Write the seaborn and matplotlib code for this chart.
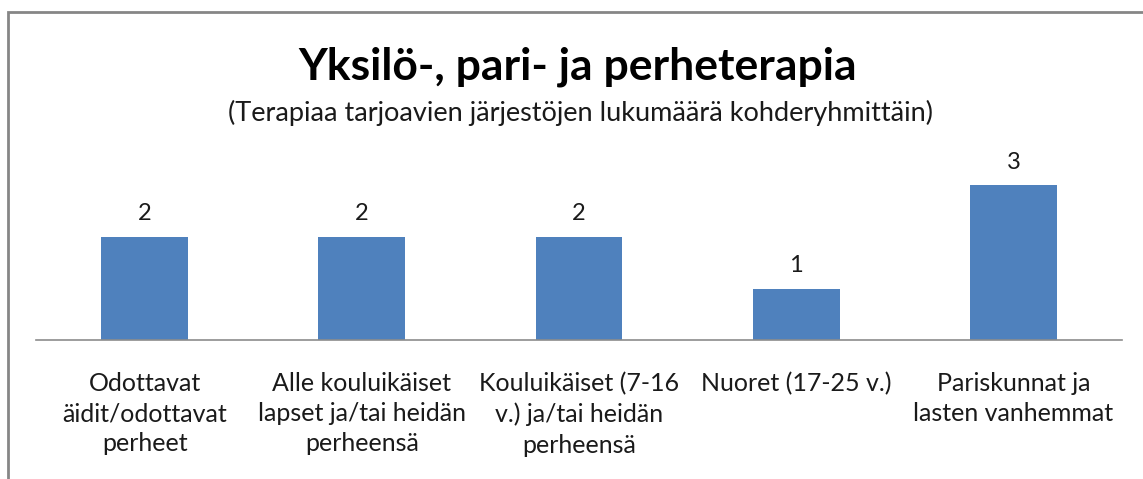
import matplotlib
matplotlib.use("Agg")
import matplotlib.pyplot as plt
import seaborn as sns
import pandas as pd
from matplotlib.patches import Rectangle

# chart data
categories = [
    "Odottavat\näidit/odottavat\nperheet",
    "Alle kouluikäiset\nlapset ja/tai heidän\nperheensä",
    "Kouluikäiset (7-16\nv.) ja/tai heidän\nperheensä",
    "Nuoret (17-25 v.)",
    "Pariskunnat ja\nlasten vanhemmat",
]
counts = [2, 2, 2, 1, 3]

df = pd.DataFrame({"kohderyhma": categories, "lukumaara": counts})

sns.set_theme(style="white")
plt.rcParams["font.family"] = ["Lato", "DejaVu Sans"]

W, H = 1143, 479
fig = plt.figure(figsize=(W / 100, H / 100), dpi=100)

# axes placed in pixel terms: x 36..1122, baseline at y=340
ax_top = 150
ax = fig.add_axes([36 / W, (H - 340) / H, (1122 - 36) / W, (340 - ax_top) / H])
sns.barplot(data=df, x="kohderyhma", y="lukumaara", color="#4F81BD",
            width=0.4, saturation=1, ax=ax, edgecolor="none")
ax.set_ylim(0, (340 - ax_top) / 51.5)
ax.set_xlim(-0.5, len(categories) - 0.5)

for c in ax.containers:
    ax.bar_label(c, labels=[str(v) for v in counts], padding=9, fontsize=17, color="#1a1a1a")

ax.set_xlabel("")
ax.set_ylabel("")
ax.set_yticks([])
ax.tick_params(axis="x", length=0, pad=23, labelsize=18, labelcolor="#1a1a1a")
for lbl in ax.get_xticklabels():
    lbl.set_linespacing(1.38)
for s in ["top", "right", "left"]:
    ax.spines[s].set_visible(False)
ax.spines["bottom"].set_color("#8C8C8C")
ax.spines["bottom"].set_linewidth(1.2)

# title and subtitle
fig.text(578 / W, 1 - 67 / H, "Yksilö-, pari- ja perheterapia", ha="center", va="center",
         fontsize=32, fontweight="bold", color="#000000")
fig.text(580 / W, 1 - 113 / H, "(Terapiaa tarjoavien järjestöjen lukumäärä kohderyhmittäin)",
         ha="center", va="center", fontsize=19.5, color="#1a1a1a")

# chart frame (cut at right and bottom edges)
fig.patches.append(Rectangle((8 / W, -0.1), 1.2, 1 - 12 / H + 0.1, transform=fig.transFigure,
                             fill=False, edgecolor="#868686", linewidth=2, figure=fig))

fig.savefig("out.png", dpi=100)
